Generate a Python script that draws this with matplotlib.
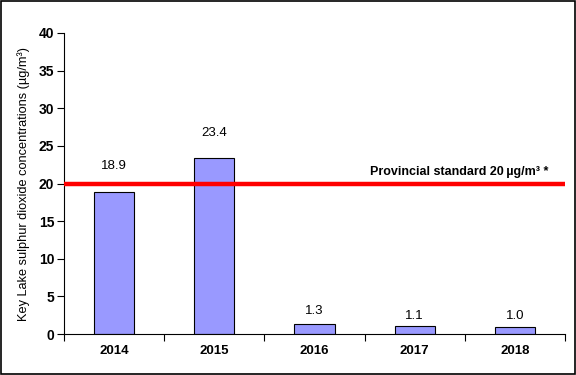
import matplotlib
matplotlib.use("Agg")
import matplotlib.pyplot as plt
from matplotlib.patches import Rectangle

plt.rcParams['font.family'] = ['Liberation Sans', 'DejaVu Sans']

years = ["2014", "2015", "2016", "2017", "2018"]
values = [18.9, 23.4, 1.3, 1.1, 1.0]
value_labels = ["18.9", "23.4", "1.3", "1.1", "1.0"]
standard = 20
yticks = [0, 5, 10, 15, 20, 25, 30, 35, 40]

label_offsets = [14, 14, 5, 3, 3]  # points above bar

fig = plt.figure(figsize=(5.76, 3.75), dpi=100)
ax = fig.add_axes([0.111, 0.109, 0.870, 0.803])

x = list(range(len(years)))
ax.bar(x, values, width=0.4, color="#9999FF", edgecolor="black", linewidth=0.8, zorder=2)
ax.axhline(standard, color="#FF0000", linewidth=3.2, zorder=3)

for xi, v, lab, off in zip(x, values, value_labels, label_offsets):
    ax.annotate(lab, (xi, v), xytext=(0, off), textcoords="offset points",
                ha="center", va="bottom", fontsize=9.5)

ax.text(3.44, standard + 1.6, "Provincial standard 20\u2009µg/m³ *", ha="center", va="center",
        fontsize=9, fontweight="bold")

ax.set_xlim(-0.5, len(years) - 0.5)
ax.set_ylim(0, 40)
ax.set_yticks(yticks)
ax.set_yticklabels([str(t) for t in yticks], fontsize=10, fontweight="bold")
ax.set_xticks(x)
ax.set_xticklabels(years, fontsize=9.5, fontweight="bold")
ax.tick_params(axis="x", length=0, pad=8)
ax.set_xticks([i - 0.5 for i in range(len(years) + 1)], minor=True)
ax.tick_params(axis="x", which="minor", length=5, direction="out", width=0.8)
ax.tick_params(axis="y", length=5, direction="out", width=0.8, pad=2)

ax.spines["top"].set_visible(False)
ax.spines["right"].set_visible(False)
ax.set_ylabel("Key Lake sulphur dioxide concentrations (µg/m³)", fontsize=9.2, labelpad=6)

fig.patches.append(Rectangle((0.001, 0.002), 0.997, 0.995, transform=fig.transFigure,
                             fill=False, edgecolor="black", linewidth=1.2))

fig.savefig("out.png", dpi=100)
